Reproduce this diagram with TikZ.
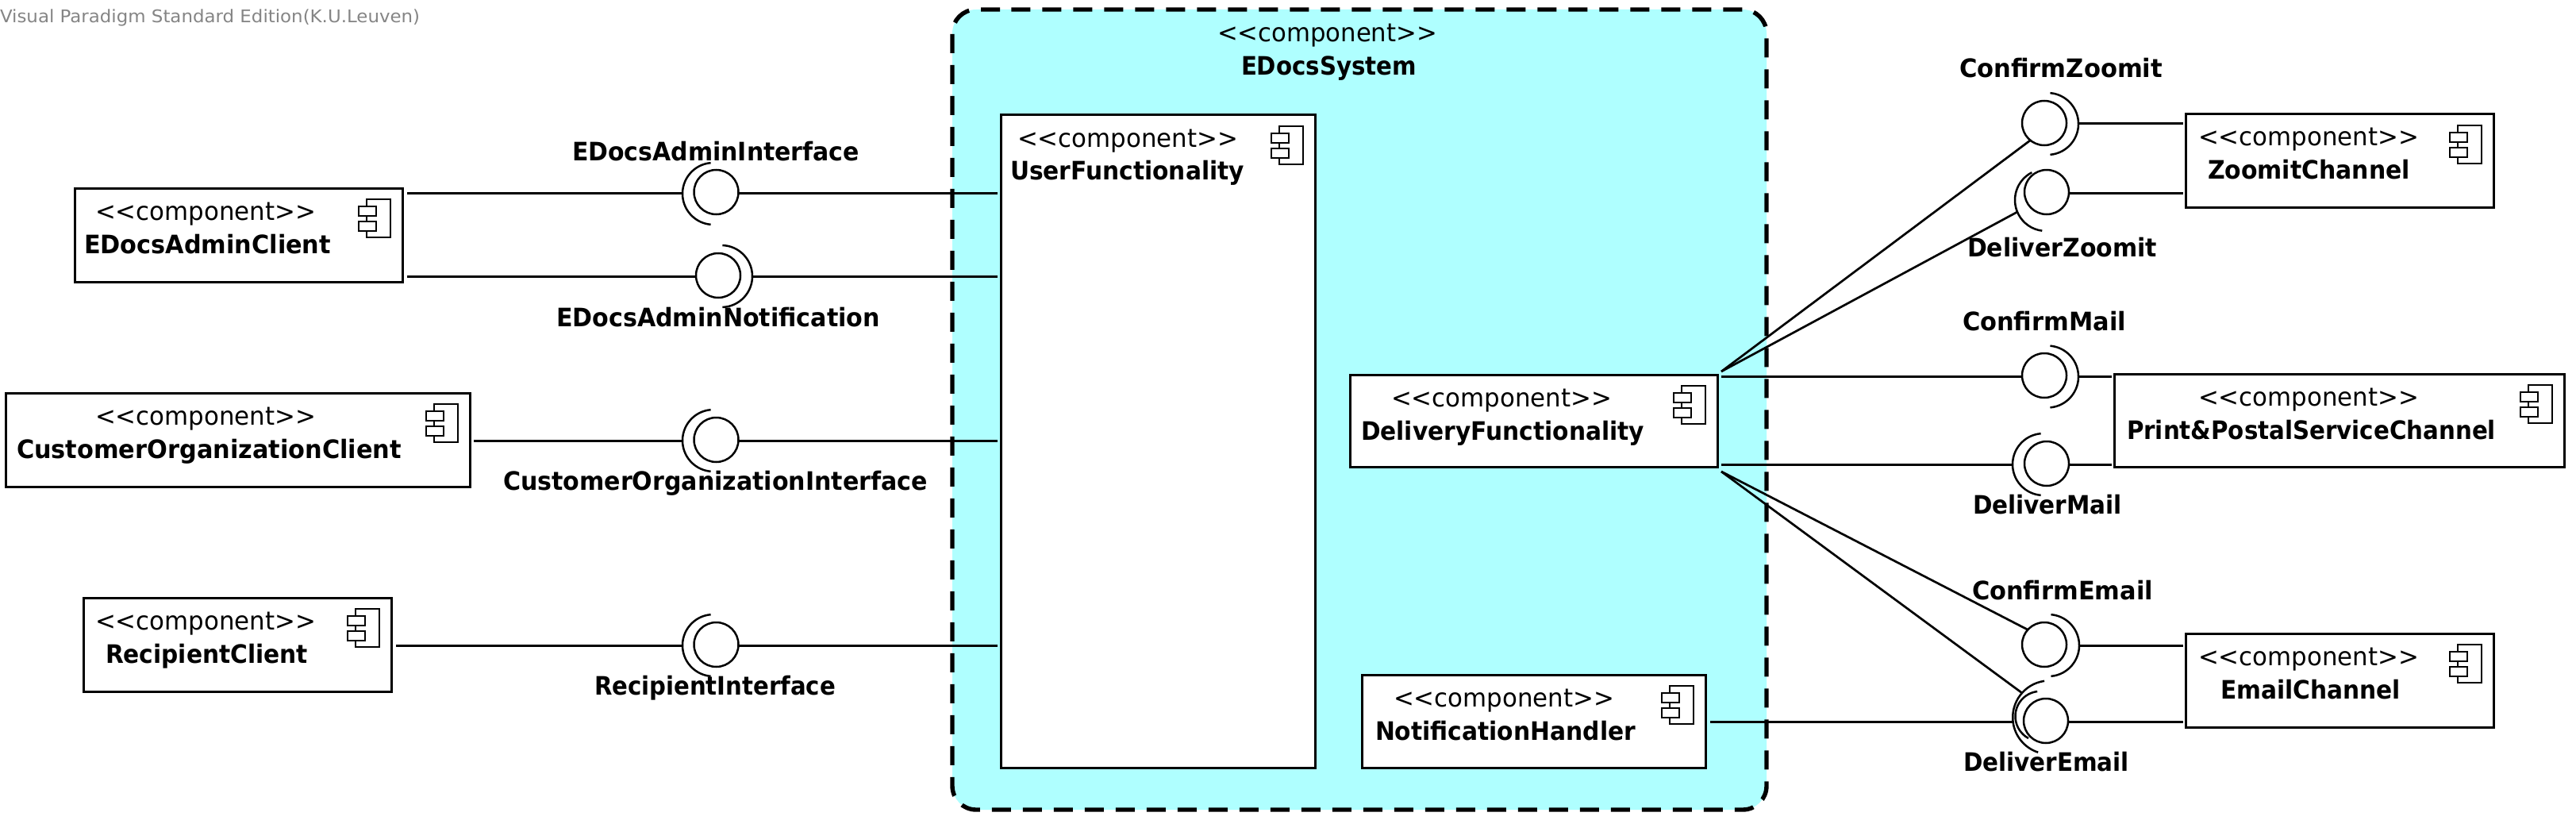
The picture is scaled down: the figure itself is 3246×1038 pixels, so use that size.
\documentclass[tikz,border=0pt]{standalone}
\usepackage{graphicx}
\usepackage{fontspec}
\setmainfont{DejaVu Sans}
\definecolor{sysfill}{HTML}{AFFFFF}
\definecolor{wm}{HTML}{858585}
\newcommand\fw[2]{\resizebox{\dimexpr #1pt/2\relax}{\height}{#2}}
\newcommand\stereotext{\textless\kern0pt\textless\kern0pt component\textgreater\kern0pt\textgreater}
\newcommand\stereo{\fw{278}{\stereotext}}
\tikzset{
  box/.style={draw=black,fill=white,line width=1.5pt,rectangle,inner sep=0pt,outer sep=0pt},
  lbl/.style={anchor=base west,inner sep=0pt,outer sep=0pt,font=\fontsize{16}{18}\selectfont,text=black},
  ball/.style={draw=black,fill=white,circle,line width=1.25pt,inner sep=0pt,outer sep=0pt,minimum size=28pt},
  conn/.style={draw=black,line width=1.5pt},
  diag/.style={draw=black,line width=1.35pt},
  sockline/.style={draw=black,line width=1.25pt},
  iconline/.style={draw=black,fill=white,line width=1.35pt},
  sysborder/.style={draw=black,line width=2.7pt,dash pattern=on 12pt off 7.5pt},
  sysbody/.style={fill=sysfill,rectangle,rounded corners=15pt,inner sep=0pt,outer sep=0pt},
}
% name, x1, y1, x2, y2, stereotype x, title x, title width, title
\newcommand\comp[9]{%
  \node[box,minimum width={(#4-#2)*0.5pt},minimum height={(#5-#3)*0.5pt}] (#1) at ({(#2+#4)/2},{(#3+#5)/2}) {};
  \node[lbl] (#1st) at ({#6},{#3+40}) {\stereo};
  \node[lbl] (#1nm) at ({#7},{#3+82}) {\fw{#8}{\bfseries #9}};
  \draw[iconline] ({#4-45},{#3+14}) rectangle ({#4-15},{#3+62});
  \draw[iconline] ({#4-55},{#3+23}) rectangle ({#4-33},{#3+35});
  \draw[iconline] ({#4-55},{#3+42}) rectangle ({#4-33},{#3+54});
}
% cx, cy, r, from, to (angles as seen on the page)
\newcommand\socket[5]{%
  \draw[sockline] ({#1+#3*cos(#4)},{#2-#3*sin(#4)}) arc[start angle={-(#4)},end angle={-(#5)},radius=#3];
}
\begin{document}
\begin{tikzpicture}[x=0.5pt,y=0.5pt,yscale=-1]
\useasboundingbox (0,0) rectangle (3246,1038);
\fill[white] (0,0) rectangle (3246,1038);

\node[lbl,text=wm,font=\fontsize{11}{13}\selectfont] (wmark) at (0,29) {\fw{529}{Visual Paradigm Standard Edition(K.U.Leuven)}};

% system
\node[sysbody,minimum width=513pt,minimum height=504pt] (System) at (1713,516) {};
\draw[sysborder] (1260,12) -- (1230,12) arc[start angle=-90,end angle=-180,radius=30]
  -- (1200,990) arc[start angle=180,end angle=90,radius=30]
  -- (2196,1020) arc[start angle=90,end angle=0,radius=30]
  -- (2226,42) arc[start angle=0,end angle=-90,radius=30] -- (1260,12);
\node[lbl] (Systemst) at (1534,53) {\fw{277}{\stereotext}};
\node[lbl] (Systemnm) at (1564,95) {\fw{221}{\bfseries EDocsSystem}};

% components
\comp{AdminClient}{94}{237}{507}{355}{120}{106}{311}{EDocsAdminClient}
\comp{CustClient}{7}{495}{592}{613}{120}{21}{485}{CustomerOrganizationClient}
\comp{RecipClient}{105}{753}{493}{871}{120}{133}{255}{RecipientClient}
\comp{User}{1261}{145}{1657}{967}{1282}{1273}{295}{UserFunctionality}
\comp{Delivery}{1701}{472}{2164}{588}{1753}{1715}{357}{DeliveryFunctionality}
\comp{Notif}{1716}{850}{2149}{967}{1756}{1733}{328}{NotificationHandler}
\comp{Zoomit}{2754}{144}{3142}{261}{2770}{2782}{255}{ZoomitChannel}
\comp{Print}{2664}{471}{3231}{588}{2770}{2680}{465}{Print\&PostalServiceChannel}
\comp{Email}{2754}{798}{3142}{916}{2770}{2798}{227}{EmailChannel}

% balls
\node[ball] (bAI) at (902.5,242) {};
\node[ball] (bAN) at (905,347) {};
\node[ball] (bCI) at (902.5,554) {};
\node[ball] (bRI) at (902.5,812) {};
\node[ball] (bCZ) at (2576,155) {};
\node[ball] (bDZ) at (2579,242) {};
\node[ball] (bCM) at (2576,473) {};
\node[ball] (bDM) at (2579,584) {};
\node[ball] (bCE) at (2576,812) {};
\node[ball] (bDE) at (2578,908) {};

% sockets
\socket{899}{244}{39}{95}{265}
\socket{909}{348}{39}{-88}{88}
\socket{899}{555}{39}{95}{265}
\socket{899}{813}{39}{95}{265}
\socket{2580}{156}{39}{-85}{85}
\socket{2578}{252}{39}{117}{263}
\socket{2580}{474.5}{39}{-85}{85}
\socket{2575}{585}{39}{95}{265}
\socket{2581}{813}{39}{-85}{85}
\socket{2582.5}{903.7}{46.3}{98}{252}
\socket{2571}{902.3}{31.5}{97}{241.5}

% tips of the sockets, on the connector lines
\coordinate (sAI) at (860,243);
\coordinate (sAN) at (948,348);
\coordinate (sCI) at (860,555);
\coordinate (sRI) at (860,813);
\coordinate (sCZ) at (2619,156);
\coordinate (sDZ) at (2606,243);
\coordinate (sCM) at (2619,474);
\coordinate (sDMl) at (2536,585);
\coordinate (sCE) at (2620,813);
\coordinate (sDEl) at (2536,909);
\coordinate (dTop) at (2169,468);
\coordinate (dBot) at (2169,594);
\coordinate (dDZ) at (2542,267);
\coordinate (dDE) at (2548,873);

% connectors
\draw[conn,shorten <=3pt] (AdminClient.east |- sAI) -- (sAI);
\draw[conn,shorten >=2pt] (bAI.east |- sAI) -- (User.west |- sAI);
\draw[conn,shorten <=3pt] (AdminClient.east |- sAN) -- (bAN.west |- sAN);
\draw[conn,shorten >=2pt] (sAN) -- (User.west |- sAN);
\draw[conn,shorten <=2.5pt] (CustClient.east |- sCI) -- (sCI);
\draw[conn,shorten >=2pt] (bCI.east |- sCI) -- (User.west |- sCI);
\draw[conn,shorten <=3pt] (RecipClient.east |- sRI) -- (sRI);
\draw[conn,shorten >=2pt] (bRI.east |- sRI) -- (User.west |- sRI);

\draw[conn,shorten >=1.5pt] (sCZ) -- (Zoomit.west |- sCZ);
\draw[conn,shorten >=1.5pt] (sDZ) -- (Zoomit.west |- sDZ);
\draw[conn,shorten <=2.5pt] (Delivery.east |- sCM) -- (bCM.west |- sCM);
\draw[conn,shorten >=1.5pt] (sCM) -- (Print.west |- sCM);
\draw[conn,shorten <=2.5pt] (Delivery.east |- sDMl) -- (sDMl);
\draw[conn,shorten >=1.5pt] (bDM.east |- sDMl) -- (Print.west |- sDMl);
\draw[conn,shorten >=1.5pt] (sCE) -- (Email.west |- sCE);
\draw[conn,shorten <=3pt] (Notif.east |- sDEl) -- (sDEl);
\draw[conn,shorten >=1.5pt] (bDE.east |- sDEl) -- (Email.west |- sDEl);

\draw[diag] (dTop) -- (bCZ.231);
\draw[diag] (dTop) -- (dDZ);
\draw[diag] (dBot) -- (bCE.138);
\draw[diag] (dBot) -- (dDE);

% interface labels
\node[lbl] (lAI) at (721,203) {\fw{362}{\bfseries EDocsAdminInterface}};
\node[lbl] (lAN) at (701,411) {\fw{408}{\bfseries EDocsAdminNotification}};
\node[lbl] (lCI) at (634,617) {\fw{535}{\bfseries CustomerOrganizationInterface}};
\node[lbl] (lRI) at (749,875) {\fw{304}{\bfseries RecipientInterface}};
\node[lbl] (lCZ) at (2469,98) {\fw{256}{\bfseries ConfirmZoomit}};
\node[lbl] (lDZ) at (2479,323) {\fw{239}{\bfseries DeliverZoomit}};
\node[lbl] (lCM) at (2473,416) {\fw{206}{\bfseries ConfirmMail}};
\node[lbl] (lDM) at (2486,647) {\fw{188}{\bfseries DeliverMail}};
\node[lbl] (lCE) at (2485,755) {\fw{228}{\bfseries ConfirmEmail}};
\node[lbl] (lDE) at (2474,971) {\fw{209}{\bfseries DeliverEmail}};
\end{tikzpicture}
\end{document}
